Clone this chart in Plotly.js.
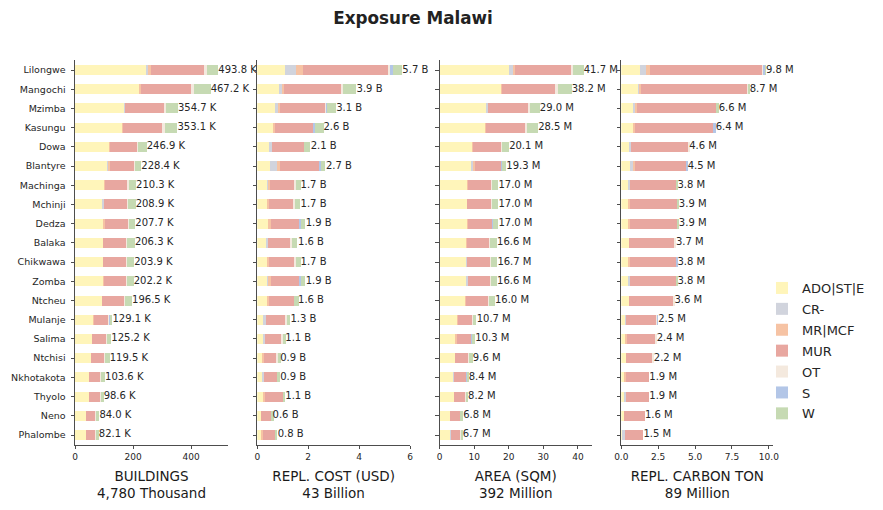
<!DOCTYPE html>
<html>
<head>
<meta charset="utf-8">
<script src="https://cdn.plot.ly/plotly-3.0.1.min.js"></script>
<style>html,body{margin:0;padding:0;background:#fff;}#chart{width:883px;height:510px;}</style>
</head>
<body>
<div id="chart"></div>
<script>
const districts = ["Lilongwe","Mangochi","Mzimba","Kasungu","Dowa","Blantyre","Machinga","Mchinji","Dedza","Balaka","Chikwawa","Zomba","Ntcheu","Mulanje","Salima","Ntchisi","Nkhotakota","Thyolo","Neno","Phalombe"];
const categories = ["ADO|ST|E","CR-","MR|MCF","MUR","OT","S","W"];
const catColors = ["#fff5ba","#d1d4dd","#f6c3a4","#e8a7a0","#f4e9de","#b3c6e7","#c6dab3"];

// BUILDINGS (thousand)
const bld_ADO = [244,223,169,165,118,109,100,96,99,97,97,98,93,64,59,56,49,49,39,39];
const bld_CR  = [7,0,3,0,0,7,0,4,0,0,0,0,0,0,0,0,0,0,0,0];
const bld_MR  = [10,3,0,2,2,3,3,0,4,0,0,3,0,3,0,0,0,0,0,0];
const bld_MUR = [185,175,134,133,95,87,79,80,80,79,79,76,76,48,49,46,40,39,33,32];
const bld_OT  = [7,9,9,10,3,2,3,3,3,2,2,3,3,3,2,3,2,3,2,3];
const bld_S   = [0,0,0,0,0,0,0,0,0,0,0,0,0,3,0,0,0,0,0,0];
const bld_W   = [41,57,40,43,29,20,25,26,22,28,26,22,25,8,15,14,13,8,10,8];
const bld_total = [493.8,467.2,354.7,353.1,246.9,228.4,210.3,208.9,207.7,206.3,203.9,202.2,196.5,129.1,125.2,119.5,103.6,98.6,84.0,82.1];

// REPL. COST (billion USD)
const cost_ADO = [1.085,0.89,0.69,0.65,0.5,0.5,0.42,0.38,0.42,0.38,0.38,0.42,0.38,0.26,0.21,0.22,0.17,0.22,0.14,0.18];
const cost_CR  = [0.43,0.065,0.12,0,0.065,0.29,0.03,0,0,0.03,0,0.05,0,0.065,0.09,0,0.08,0,0,0];
const cost_MR  = [0.275,0.08,0.08,0.05,0,0.1,0.05,0.08,0.1,0,0.08,0.065,0.08,0,0,0.04,0,0.08,0,0.04];
const cost_MUR = [3.37,2.29,1.82,1.52,1.27,1.57,0.98,0.98,1.14,0.915,1.02,1.15,0.98,0.8,0.67,0.51,0.52,0.7,0.39,0.47];
const cost_OT  = [0.04,0.05,0.02,0,0,0,0.04,0.04,0,0.04,0.04,0,0,0.04,0.04,0.04,0,0,0,0];
const cost_S   = [0.12,0,0.02,0.04,0,0.04,0,0,0.05,0,0,0.04,0,0,0,0,0,0,0,0];
const cost_W   = [0.35,0.5,0.34,0.35,0.235,0.16,0.2,0.2,0.16,0.2,0.2,0.14,0.2,0.12,0.12,0.12,0.12,0.08,0.12,0.08];
const cost_total = [5.7,3.9,3.1,2.6,2.1,2.7,1.7,1.7,1.9,1.6,1.7,1.9,1.6,1.3,1.1,0.9,0.9,1.1,0.6,0.8];

// AREA (million sqm)
const area_ADO = [20.0,17.7,13.37,13.08,9.33,9.04,7.88,7.79,7.88,7.6,7.6,7.6,7.31,5.0,4.62,4.42,3.85,4.04,2.98,3.17];
const area_CR  = [1.15,0,0.58,0,0,0.77,0,0,0,0,0.29,0.48,0,0,0,0,0.3,0,0,0.19];
const area_MR  = [0.58,0.29,0,0.19,0.29,0.38,0.29,0,0.29,0.29,0,0,0.29,0.19,0.29,0,0,0,0,0];
const area_MUR = [16.15,15.3,11.63,11.45,8.15,7.6,6.75,7.1,7.0,6.4,6.8,6.5,6.4,4.3,4.2,3.75,3.6,3.3,2.95,2.7];
const area_OT  = [0.67,0.87,0.58,0.58,0.29,0,0.29,0.29,0.15,0.29,0.29,0.29,0.29,0.29,0,0.29,0,0.29,0,0.29];
const area_S   = [0,0,0,0,0,0.29,0,0,0.15,0,0,0,0,0,0.29,0,0.3,0,0,0];
const area_W   = [3.08,4.0,2.79,3.17,2.02,1.15,1.73,1.73,1.44,2.02,1.73,1.73,1.73,0.87,0.87,1.15,0.35,0.58,0.87,0.35];
const area_total = [41.7,38.2,29.0,28.5,20.1,19.3,17.0,17.0,17.0,16.6,16.7,16.6,16.0,10.7,10.3,9.6,8.4,8.2,6.8,6.7];

// REPL. CARBON TON (million)
const carb_ADO = [1.25,1.18,0.85,0.85,0.58,0.58,0.51,0.49,0.51,0.49,0.51,0.51,0.51,0.29,0.31,0.31,0.25,0.25,0.16,0.13];
const carb_CR  = [0.40,0.04,0.13,0,0.11,0.27,0.07,0,0,0,0,0.11,0,0.05,0,0,0,0.07,0,0.09];
const carb_MR  = [0.27,0.09,0.07,0.07,0,0.11,0,0.09,0.11,0,0.07,0,0,0,0.07,0,0.07,0,0,0];
const carb_MUR = [7.68,7.25,5.45,5.35,3.88,3.47,3.15,3.25,3.21,3.14,3.15,3.11,3.02,2.08,1.95,1.82,1.58,1.58,1.44,1.28];
const carb_OT  = [0.07,0.07,0,0,0.04,0,0,0,0,0.07,0,0,0.07,0.04,0.07,0.07,0,0,0,0];
const carb_S   = [0.11,0,0,0.13,0,0.07,0,0,0,0,0.07,0,0,0.04,0,0,0,0,0,0];
const carb_W   = [0.02,0.07,0.1,0,0,0,0.07,0.07,0.07,0,0,0.07,0,0,0,0,0,0,0,0];
const carb_total = [9.8,8.7,6.6,6.4,4.6,4.5,3.8,3.9,3.9,3.7,3.8,3.8,3.6,2.5,2.4,2.2,1.9,1.9,1.6,1.5];

const panels = [
  {series:[bld_ADO,bld_CR,bld_MR,bld_MUR,bld_OT,bld_S,bld_W], total:bld_total, suffix:" K", title:"BUILDINGS<br>4,780 Thousand", range:[0,527], dtick:200, fmt:"d"},
  {series:[cost_ADO,cost_CR,cost_MR,cost_MUR,cost_OT,cost_S,cost_W], total:cost_total, suffix:" B", title:"REPL. COST (USD)<br>43 Billion", range:[0,6.0], dtick:2, fmt:"d"},
  {series:[area_ADO,area_CR,area_MR,area_MUR,area_OT,area_S,area_W], total:area_total, suffix:" M", title:"AREA (SQM)<br>392 Million", range:[0,44], dtick:10, fmt:"d"},
  {series:[carb_ADO,carb_CR,carb_MR,carb_MUR,carb_OT,carb_S,carb_W], total:carb_total, suffix:" M", title:"REPL. CARBON TON<br>89 Million", range:[0,10.3], dtick:2.5, fmt:".1f"}
];

const W = 883, H = 510;
const xDomPx = [[75,228],[257.3,410],[439.7,591.7],[621.3,773.3]];
const yTop = 60.4, yBot = 444.6;
const yDom = [1 - yBot/H, 1 - yTop/H];

const traces = [];
const layout = {
  width: W, height: H,
  margin: {l:0, r:0, t:0, b:0},
  paper_bgcolor: "#fff", plot_bgcolor: "#fff",
  barmode: "stack",
  bargap: 0.48,
  font: {family: "DejaVu Sans, sans-serif", color: "#262626", size: 9},
  title: {text: "<b>Exposure Malawi</b>", x: 413/W, xanchor: "center", y: 1 - 18/H, yanchor: "middle", font: {size: 16.8, color: "#222", family: "DejaVu Sans, sans-serif"}},
  showlegend: true,
  legend: {x: 762/W, xanchor: "left", y: 1 - 273/H, yanchor: "top", font: {size: 13, color: "#262626"}, traceorder: "grouped", tracegroupgap: 1, bgcolor: "rgba(0,0,0,0)"}
};

panels.forEach((p, i) => {
  const ax = i === 0 ? "" : String(i + 1);
  const xa = "x" + ax, ya = "y" + ax;
  categories.forEach((c, k) => {
    traces.push({
      type: "bar", orientation: "h",
      x: p.series[k], y: districts,
      xaxis: xa, yaxis: ya,
      name: c, legendgroup: c, showlegend: i === 0,
      marker: {color: catColors[k], line: {width: 0}},
      hovertemplate: "%{y}: %{x}<extra>" + c + "</extra>"
    });
  });
  traces.push({
    type: "scatter", mode: "text",
    x: p.total, y: districts,
    xaxis: xa, yaxis: ya,
    text: p.total.map(v => v.toFixed(1) + p.suffix),
    textposition: "middle right",
    textfont: {size: 10, color: "#262626"},
    showlegend: false, cliponaxis: false, hoverinfo: "skip"
  });
  layout["xaxis" + ax] = {
    domain: [xDomPx[i][0]/W, xDomPx[i][1]/W],
    anchor: ya, range: p.range, dtick: p.dtick, tick0: 0, tickformat: p.fmt,
    showgrid: false, zeroline: false,
    showline: true, linecolor: "#4d4d4d", linewidth: 1,
    ticks: "outside", ticklen: 3.5, tickcolor: "#4d4d4d",
    tickfont: {size: 9, color: "#262626"},
    title: {text: p.title, font: {size: 13.5, color: "#1a1a1a"}, standoff: 10}
  };
  layout["yaxis" + ax] = {
    domain: yDom, anchor: xa,
    type: "category", categoryarray: districts, categoryorder: "array",
    range: [19.5, -0.5],
    showgrid: false, zeroline: false,
    showline: true, linecolor: "#4d4d4d", linewidth: 1,
    ticks: "outside", ticklen: 3.5, tickcolor: "#4d4d4d",
    showticklabels: i === 0,
    ticklabelstandoff: 3,
    tickfont: {size: 9.5, color: "#262626"}
  };
});

Plotly.newPlot("chart", traces, layout, {displayModeBar: false, staticPlot: false});
</script>
</body>
</html>
